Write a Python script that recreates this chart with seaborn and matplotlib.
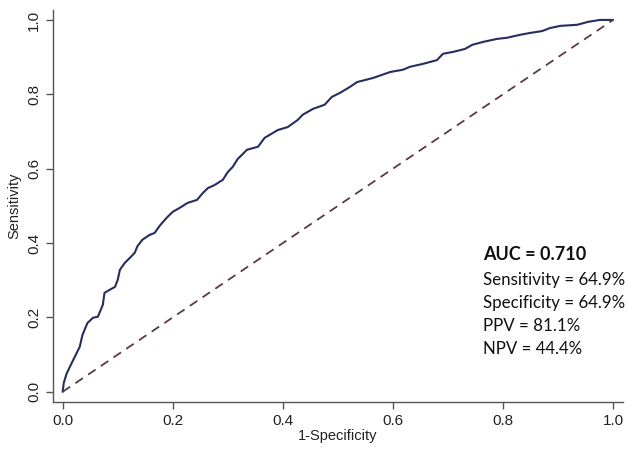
import pandas as pd
import matplotlib
matplotlib.use("Agg")
import matplotlib.pyplot as plt
import seaborn as sns

# ROC points (1-specificity, sensitivity)
fpr = [0.000, 0.002, 0.007, 0.013, 0.022, 0.031, 0.036, 0.045, 0.055, 0.064,
       0.073, 0.076, 0.085, 0.095, 0.100, 0.104, 0.113, 0.122, 0.131, 0.136,
       0.145, 0.158, 0.167, 0.176, 0.189, 0.200, 0.213, 0.227, 0.244, 0.255,
       0.264, 0.276, 0.291, 0.300, 0.309, 0.318, 0.335, 0.355, 0.367, 0.391,
       0.409, 0.427, 0.436, 0.455, 0.476, 0.489, 0.504, 0.522, 0.535, 0.564,
       0.595, 0.618, 0.631, 0.655, 0.680, 0.691, 0.709, 0.731, 0.744, 0.764,
       0.789, 0.807, 0.831, 0.849, 0.871, 0.885, 0.904, 0.935, 0.955, 0.976,
       1.000]
tpr = [0.000, 0.024, 0.048, 0.067, 0.094, 0.121, 0.153, 0.185, 0.199, 0.202,
       0.234, 0.266, 0.274, 0.282, 0.301, 0.328, 0.347, 0.360, 0.374, 0.392,
       0.409, 0.422, 0.427, 0.446, 0.468, 0.484, 0.495, 0.508, 0.516, 0.535,
       0.548, 0.556, 0.570, 0.591, 0.605, 0.626, 0.651, 0.659, 0.683, 0.704,
       0.712, 0.731, 0.745, 0.761, 0.772, 0.793, 0.804, 0.820, 0.833, 0.844,
       0.860, 0.866, 0.874, 0.882, 0.892, 0.909, 0.914, 0.922, 0.933, 0.941,
       0.949, 0.952, 0.960, 0.965, 0.970, 0.978, 0.984, 0.987, 0.995, 1.000,
       1.000]

ref_line = [0.0, 1.0]
ticks = [0.0, 0.2, 0.4, 0.6, 0.8, 1.0]
tick_labels = ["0.0", "0.2", "0.4", "0.6", "0.8", "1.0"]

auc_text = "AUC = 0.710"
stats_text = ["Sensitivity = 64.9%", "Specificity = 64.9%", "PPV = 81.1%", "NPV = 44.4%"]

sns.set_style("ticks")
plt.rcParams['font.family'] = ['Liberation Sans', 'DejaVu Sans']

fig = plt.figure(figsize=(6.28, 4.5), dpi=100)
ax = fig.add_axes([0.084, 0.107, 0.908, 0.871])

roc = pd.DataFrame({"fpr": fpr, "tpr": tpr})
sns.lineplot(data=roc, x="fpr", y="tpr", ax=ax, color="#262e5e", lw=1.5,
             sort=False, estimator=None)
ax.plot(ref_line, ref_line, color="#5b3b40", lw=1.3, ls=(0, (5, 3.5)))

ax.set_xlim(-0.018, 1.018)
ax.set_ylim(-0.027, 1.027)
ax.set_xticks(ticks)
ax.set_xticklabels(tick_labels)
ax.set_yticks(ticks)
ax.set_yticklabels(tick_labels, rotation=90, va="center")
ax.tick_params(labelsize=11, length=5, width=1, color="#555555", labelcolor="#222222")
ax.set_xlabel("1-Specificity", fontsize=10.5, color="#222222", labelpad=1)
ax.set_ylabel("Sensitivity", fontsize=10.5, color="#222222", labelpad=4)
for s in ["left", "bottom"]:
    ax.spines[s].set_color("#555555")
    ax.spines[s].set_linewidth(1)
sns.despine(ax=ax)

ax.text(0.764, 0.368, auc_text, fontsize=13, fontweight="bold", family="Lato",
        va="center", color="#111111")
ys = [0.302, 0.240, 0.178, 0.116]
for y, t in zip(ys, stats_text):
    ax.text(0.764, y, t, fontsize=12.2, family="Lato", va="center", color="#111111")

fig.savefig("out.png", dpi=100)
